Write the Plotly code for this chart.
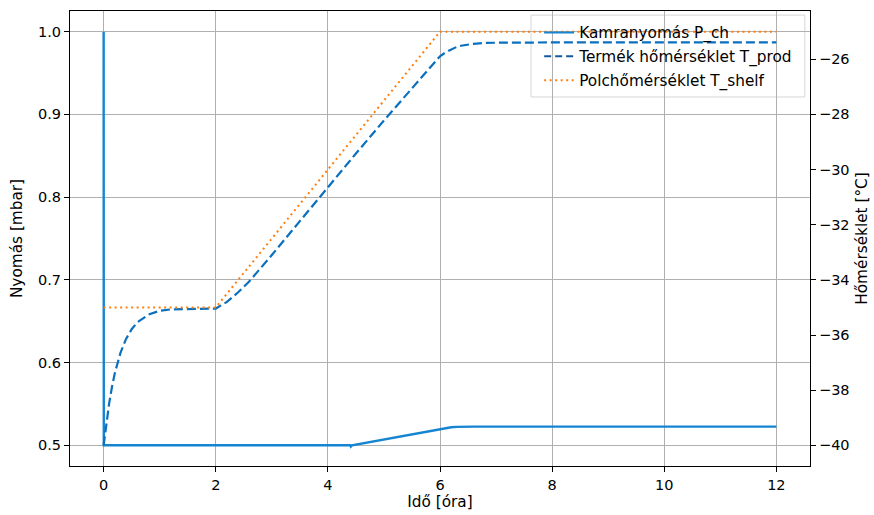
import plotly.graph_objects as go

# ---- data ----
time_p = [0.0, 0.003, 4.40, 4.41, 4.43, 5.0, 5.5, 6.0, 6.1, 6.2, 6.3, 6.4, 6.6, 7.0, 12.0]
p_ch = [1.0, 0.5, 0.5, 0.4985, 0.5, 0.507, 0.5135, 0.5200, 0.5212, 0.5219, 0.5223, 0.5225, 0.5226, 0.5226, 0.5226]

time_shelf = [0.0, 2.0, 6.0, 12.0]
t_shelf = [-35.0, -35.0, -25.0, -25.0]

time_prod = [0.0, 0.05, 0.1, 0.15, 0.2, 0.3, 0.4, 0.5, 0.6, 0.8, 1.0, 1.2, 1.5, 2.0,
             2.2, 2.4, 2.6, 2.8, 3.0, 3.5, 4.0, 4.5, 5.0, 5.5, 5.8, 6.0, 6.1, 6.2,
             6.3, 6.4, 6.6, 6.8, 7.0, 8.0, 12.0]
t_prod = [-40.0, -39.16, -38.46, -37.87, -37.38, -36.65, -36.14, -35.79, -35.54, -35.26,
          -35.12, -35.07, -35.05, -35.04, -34.80, -34.45, -34.05, -33.58, -33.10, -31.87,
          -30.63, -29.42, -28.22, -27.05, -26.35, -25.89, -25.75, -25.64, -25.55, -25.50,
          -25.44, -25.41, -25.40, -25.39, -25.39]

x_ticks = [0, 2, 4, 6, 8, 10, 12]
y1_ticks = [0.5, 0.6, 0.7, 0.8, 0.9, 1.0]
y2_ticks = [-40, -38, -36, -34, -32, -30, -28, -26]
y2_labels = ["−40", "−38", "−36", "−34", "−32", "−30", "−28", "−26"]

names = ["Kamranyomás P_ch", "Termék hőmérséklet T_prod", "Polchőmérséklet T_shelf"]

C_P = "#1585d2"
C_T = "#0a70bd"
C_T_LEG = "#13599a"
C_S = "#ff7f0e"
FONT = "DejaVu Sans"
TICK_SIZE = 14.5
LABEL_SIZE = 15.3

fig = go.Figure()

fig.add_trace(go.Scatter(x=time_p, y=p_ch, mode="lines", yaxis="y",
                         line=dict(color=C_P, width=2.4), showlegend=False))
fig.add_trace(go.Scatter(x=time_prod, y=t_prod, mode="lines", yaxis="y2",
                         line=dict(color=C_T, width=2.2, dash="9px,4px"), showlegend=False))
fig.add_trace(go.Scatter(x=time_shelf, y=t_shelf, mode="lines", yaxis="y2",
                         line=dict(color=C_S, width=2, dash="2px,3.5px"), showlegend=False))

# legend entries
fig.add_trace(go.Scatter(x=[None], y=[None], mode="lines", name=names[0], legendgroup="a",
                         line=dict(color=C_P, width=2)))
fig.add_trace(go.Scatter(x=[None], y=[None], mode="lines", name=names[1], legendgroup="b",
                         line=dict(color=C_T_LEG, width=2, dash="7px,4px")))
fig.add_trace(go.Scatter(x=[None], y=[None], mode="lines", name=names[2], legendgroup="c",
                         line=dict(color=C_S, width=2, dash="2px,3.5px")))

axis_common = dict(showline=True, linecolor="black", linewidth=1.2, ticks="outside",
                   ticklen=5, tickwidth=1, tickcolor="black", automargin=False,
                   tickfont=dict(family=FONT, size=TICK_SIZE, color="black"), zeroline=False)

fig.update_layout(
    width=874, height=515,
    margin=dict(l=70, r=64, t=11, b=49),
    paper_bgcolor="white", plot_bgcolor="white",
    font=dict(family=FONT, size=LABEL_SIZE, color="black"),
    xaxis=dict(range=[-0.6, 12.6], tickvals=x_ticks, showgrid=True, gridcolor="#b0b0b0",
               gridwidth=1, mirror=True,
               title=dict(text="Idő [óra]", font=dict(family=FONT, size=LABEL_SIZE), standoff=4),
               **axis_common),
    yaxis=dict(range=[0.475, 1.025], tickvals=y1_ticks, tickformat=".1f", showgrid=True,
               gridcolor="#b0b0b0", gridwidth=1,
               title=dict(text="Nyomás [mbar]", font=dict(family=FONT, size=LABEL_SIZE), standoff=11),
               **axis_common),
    yaxis2=dict(range=[-40.75, -24.25], tickvals=y2_ticks, ticktext=y2_labels, overlaying="y",
                side="right", showgrid=False,
                title=dict(text="Hőmérséklet [°C]", font=dict(family=FONT, size=LABEL_SIZE), standoff=7),
                **axis_common),
    legend=dict(x=0.634, y=0.989, xanchor="left", yanchor="top", bgcolor="rgba(0,0,0,0)",
                borderwidth=0, traceorder="grouped", tracegroupgap=1,
                font=dict(family=FONT, size=LABEL_SIZE, color="black")),
    shapes=[dict(type="rect", xref="paper", yref="paper", x0=0.623, x1=0.993, y0=0.811, y1=0.991,
                 fillcolor="rgba(255,255,255,0.85)", line=dict(color="#d6d6d6", width=1),
                 layer="between")],
)

fig.write_html("out.html", config={"displayModeBar": False},
               post_script="document.body.style.margin='0';document.body.style.overflow='hidden';")
